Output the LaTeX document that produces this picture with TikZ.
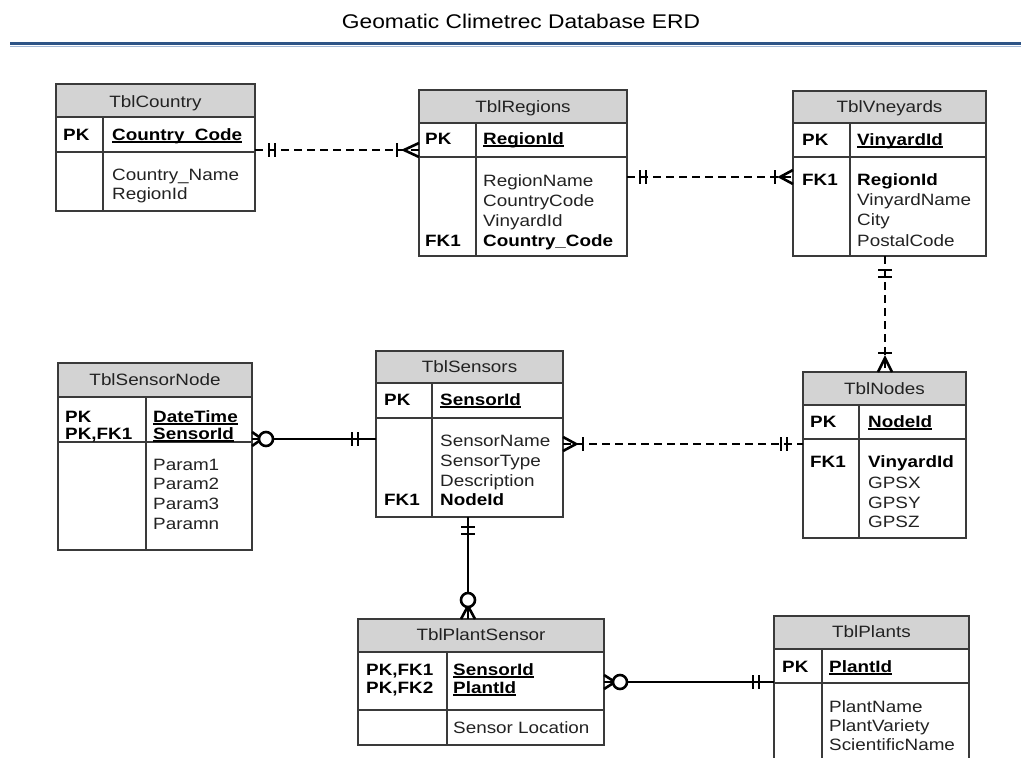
\documentclass[tikz,border=0pt]{standalone}
\usepackage{fontspec}
\setmainfont{Liberation Sans}[FakeStretch=1.15]
\definecolor{titleblue}{HTML}{2E5486}
\definecolor{lightblue}{HTML}{A3B8D6}
\definecolor{hdrgray}{HTML}{D3D3D3}
\definecolor{boxgray}{HTML}{3A3A3A}
\definecolor{txtgray}{HTML}{222222}
\newcommand{\bodyf}{\fontsize{16.4}{20}\selectfont}
\newcommand{\titlef}{\fontsize{19.8}{24}\selectfont}
\newcommand{\keyul}[1]{\setbox0\hbox{#1}\rlap{\rule[-2.6pt]{\wd0}{1.4pt}}\box0}
\tikzset{
  hdrfill/.style={fill=hdrgray},
  tblbox/.style={draw=boxgray, line width=1.4pt, inner sep=0pt, outer sep=0pt},
  tblline/.style={draw=boxgray, line width=1.4pt},
  txt/.style={anchor=base west, inner sep=0pt, font=\bodyf, text=txtgray},
  keytxt/.style={anchor=base west, inner sep=0pt, font=\bodyf\bfseries, text=black},
  hdrtxt/.style={anchor=base, inner sep=0pt, font=\bodyf, text=txtgray},
  dconn/.style={line width=2.7pt, dash pattern=on 8pt off 5pt},
  sconn/.style={line width=2.7pt},
  symb/.style={line width=2.6pt}
}
\newcommand{\erdtbl}[8]{%
  \fill[hdrfill] (#2,#3) rectangle (#4,#6);
  \node[tblbox, anchor=north west, minimum width={(#4-#2)*1pt}, minimum height={(#5-#3)*1pt}] (#1) at (#2,#3) {};
  \draw[tblline] (#2,#6) -- (#4,#6) (#2,#7) -- (#4,#7) (#8,#6) -- (#8,#5);
}
\newcommand{\barx}[2]{\draw[symb] ({#1},{#2-7}) -- ({#1},{#2+7});}
\newcommand{\bary}[2]{\draw[symb] ({#1-7},{#2}) -- ({#1+7},{#2});}
\newcommand{\crowh}[3]{\draw[symb] ({#1},{#2-7}) -- ({#3},{#2}) -- ({#1},{#2+7});}
\newcommand{\crowv}[3]{\draw[symb] ({#1-7},{#2}) -- ({#1},{#3}) -- ({#1+7},{#2});}
\newcommand{\ringat}[2]{\draw[symb, fill=white] (#1,#2) circle[radius=7];}
\begin{document}
\begin{tikzpicture}[x=1pt,y=-1pt]
\useasboundingbox (0,0) rectangle (1021,758);
\clip (0,0) rectangle (1021,758);
\fill[white] (0,0) rectangle (1021,758);
% title
\node[anchor=base, inner sep=0pt, font=\titlef, text=black] (title) at (521,28) {Geomatic Climetrec Database ERD};
\draw[lightblue, line width=1.4pt] (10,46.6) -- (1021,46.6);
\draw[titleblue, line width=3.4pt] (10,43.6) -- (1021,43.6);

% ---------- tables ----------
\erdtbl{country}{56}{84}{255}{211}{117}{152}{103}
\node[hdrtxt] (country-h) at (155.5,107) {TblCountry};
\node[keytxt] (country-pk) at (63,140) {PK};
\node[keytxt] (country-k1) at (112,140) {\keyul{Country\_Code}};
\node[txt] (country-a1) at (112,180) {Country\_Name};
\node[txt] (country-a2) at (112,199) {RegionId};

\erdtbl{regions}{419}{90}{627}{256}{123}{157}{476}
\node[hdrtxt] (regions-h) at (523,112) {TblRegions};
\node[keytxt] (regions-pk) at (425,144) {PK};
\node[keytxt] (regions-k1) at (483,144) {\keyul{RegionId}};
\node[txt] (regions-a1) at (483,186) {RegionName};
\node[txt] (regions-a2) at (483,206) {CountryCode};
\node[txt] (regions-a3) at (483,226) {VinyardId};
\node[keytxt] (regions-a4) at (483,246) {Country\_Code};
\node[keytxt] (regions-fk) at (425,246) {FK1};

\erdtbl{vineyards}{793}{91}{986}{256}{123}{157}{850}
\node[hdrtxt] (vineyards-h) at (889.5,112) {TblVneyards};
\node[keytxt] (vineyards-pk) at (802,145) {PK};
\node[keytxt] (vineyards-k1) at (857,145) {\keyul{VinyardId}};
\node[keytxt] (vineyards-fk) at (802,185) {FK1};
\node[keytxt] (vineyards-a1) at (857,185) {RegionId};
\node[txt] (vineyards-a2) at (857,205) {VinyardName};
\node[txt] (vineyards-a3) at (857,225) {City};
\node[txt] (vineyards-a4) at (857,246) {PostalCode};

\erdtbl{sensornode}{58}{363}{252}{550}{397}{442}{146}
\node[hdrtxt] (sensornode-h) at (155,385) {TblSensorNode};
\node[keytxt] (sensornode-pk1) at (65,422) {PK};
\node[keytxt] (sensornode-pk2) at (65,439) {PK,FK1};
\node[keytxt] (sensornode-k1) at (153,422) {\keyul{DateTime}};
\node[keytxt] (sensornode-k2) at (153,439) {\keyul{SensorId}};
\node[txt] (sensornode-a1) at (153,470) {Param1};
\node[txt] (sensornode-a2) at (153,489) {Param2};
\node[txt] (sensornode-a3) at (153,509) {Param3};
\node[txt] (sensornode-a4) at (153,529) {Paramn};

\erdtbl{sensors}{376}{351}{563}{517}{383}{418}{432}
\node[hdrtxt] (sensors-h) at (469.5,372) {TblSensors};
\node[keytxt] (sensors-pk) at (384,405) {PK};
\node[keytxt] (sensors-k1) at (440,405) {\keyul{SensorId}};
\node[txt] (sensors-a1) at (440,446) {SensorName};
\node[txt] (sensors-a2) at (440,466) {SensorType};
\node[txt] (sensors-a3) at (440,486) {Description};
\node[keytxt] (sensors-a4) at (440,505) {NodeId};
\node[keytxt] (sensors-fk) at (384,505) {FK1};

\erdtbl{nodes}{803}{372}{966}{538}{405}{439}{859}
\node[hdrtxt] (nodes-h) at (884.5,394) {TblNodes};
\node[keytxt] (nodes-pk) at (810,427) {PK};
\node[keytxt] (nodes-k1) at (868,427) {\keyul{NodeId}};
\node[keytxt] (nodes-fk) at (810,467) {FK1};
\node[keytxt] (nodes-a1) at (868,467) {VinyardId};
\node[txt] (nodes-a2) at (868,488) {GPSX};
\node[txt] (nodes-a3) at (868,508) {GPSY};
\node[txt] (nodes-a4) at (868,527) {GPSZ};

\erdtbl{plantsensor}{358}{619}{604}{745}{652}{710}{447}
\node[hdrtxt] (plantsensor-h) at (481,640) {TblPlantSensor};
\node[keytxt] (plantsensor-pk1) at (366,675) {PK,FK1};
\node[keytxt] (plantsensor-pk2) at (366,693) {PK,FK2};
\node[keytxt] (plantsensor-k1) at (453,675) {\keyul{SensorId}};
\node[keytxt] (plantsensor-k2) at (453,693) {\keyul{PlantId}};
\node[txt] (plantsensor-a1) at (453,733) {Sensor Location};

\erdtbl{plants}{774}{616}{969}{775}{649}{683}{822}
\node[hdrtxt] (plants-h) at (871.5,637) {TblPlants};
\node[keytxt] (plants-pk) at (782,672) {PK};
\node[keytxt] (plants-k1) at (829,672) {\keyul{PlantId}};
\node[txt] (plants-a1) at (829,712) {PlantName};
\node[txt] (plants-a2) at (829,731) {PlantVariety};
\node[txt] (plants-a3) at (829,750) {ScientificName};

% ---------- connectors ----------
% Country -> Regions
\draw[dconn] (country.east |- 0,150) -- (regions.west |- 0,150);
\barx{269}{150}\barx{275}{150}
\barx{397}{150}\crowh{419}{150}{404}
% Regions -> Vineyards
\draw[dconn] (regions.east |- 0,177) -- (vineyards.west |- 0,177);
\barx{640}{177}\barx{646}{177}
\barx{775}{177}\crowh{793}{177}{780}
% Vineyards -> Nodes
\draw[dconn] (vineyards.south -| 885,0) -- (nodes.north -| 885,0);
\bary{885}{270}\bary{885}{277}
\bary{885}{353}\crowv{885}{372}{358}
% Sensors -> Nodes
\draw[dconn] (sensors.east |- 0,444) -- (nodes.west |- 0,444);
\crowh{563}{444}{576}\barx{583}{444}
\barx{781}{444}\barx{787}{444}
% SensorNode -> Sensors
\draw[sconn] (sensornode.east |- 0,439) -- (sensors.west |- 0,439);
\crowh{252}{439}{262}\ringat{266}{439}
\barx{352}{439}\barx{358}{439}
% Sensors -> PlantSensor
\draw[sconn] (sensors.south -| 468,0) -- (plantsensor.north -| 468,0);
\bary{468}{527}\bary{468}{534}
\crowv{468}{619}{606}\ringat{468}{600}
% PlantSensor -> Plants
\draw[sconn] (plantsensor.east |- 0,682) -- (plants.west |- 0,682);
\crowh{604}{682}{615}\ringat{620}{682}
\barx{753}{682}\barx{759}{682}
\end{tikzpicture}
\end{document}
